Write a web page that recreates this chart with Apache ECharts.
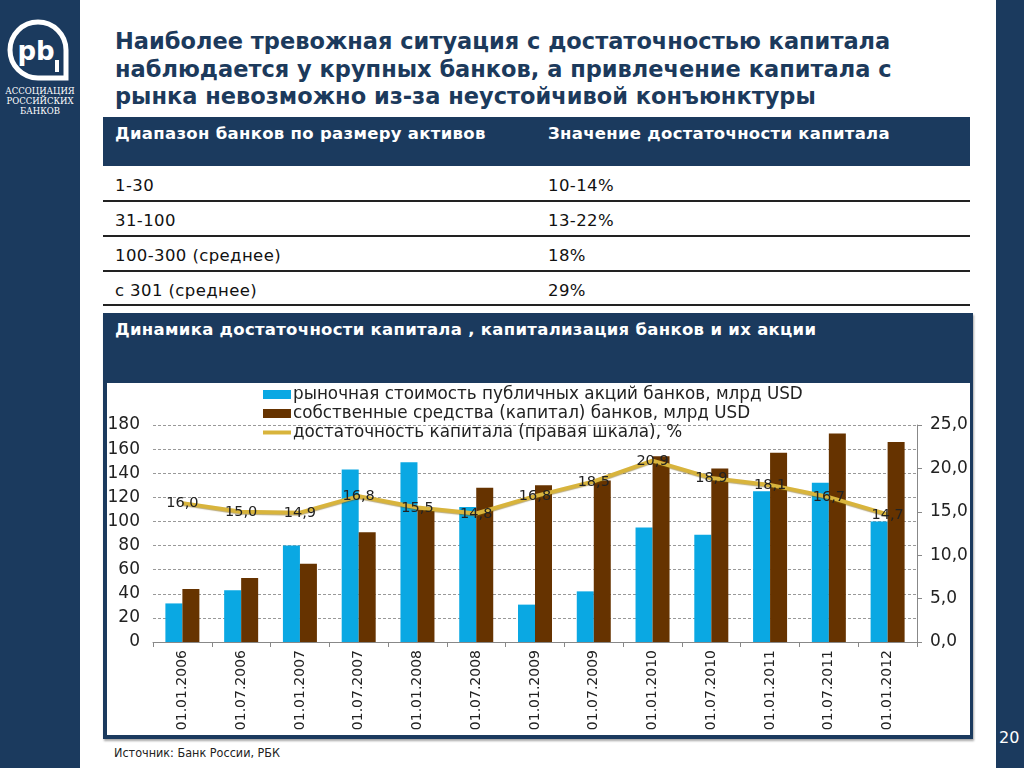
<!DOCTYPE html>
<html>
<head>
<meta charset="utf-8">
<script src="https://cdn.jsdelivr.net/npm/echarts@6/dist/echarts.min.js"></script>
<style>
  html, body { margin: 0; padding: 0; }
  body { width: 1024px; height: 768px; position: relative; overflow: hidden; background: #fff; font-family: "DejaVu Sans", Verdana, sans-serif; }
  .abs { position: absolute; }
  #side { left: 0; top: 0; width: 80px; height: 768px; background: #1b3a5e; }
  #rside { left: 996px; top: 0; width: 28px; height: 768px; background: #1b3a5e; }
  #pnum { left: 999px; top: 728px; color: #fff; font-size: 16px; }
  #title { left: 115px; top: 28px; color: #1c3a5c; font-weight: bold; font-size: 22.5px; line-height: 27.5px; white-space: nowrap; }
  #thead { left: 103px; top: 117px; width: 867px; height: 49px; background: #1b3a5e; }
  .th { color: #fff; font-weight: bold; font-size: 16.5px; letter-spacing: 0.3px; top: 124px; white-space: nowrap; }
  .td { color: #111; font-size: 16.5px; letter-spacing: 0.4px; white-space: nowrap; }
  .hr { left: 103px; width: 867px; height: 2px; background: #222; }
  #panel { left: 103px; top: 313px; width: 870px; height: 426px; background: #1b3a5e; box-shadow: 1px 2px 2px rgba(0,0,0,0.35); }
  #inner { left: 107px; top: 383px; width: 863px; height: 352px; background: #fff; }
  #ptitle { left: 115px; top: 320px; color: #fff; font-weight: bold; font-size: 16.5px; letter-spacing: 0.3px; white-space: nowrap; }
  #src { left: 114px; top: 745px; font-size: 12.5px; color: #222; font-family: "DejaVu Sans Condensed", "DejaVu Sans", sans-serif; }
  #chart { left: 0; top: 0; width: 1024px; height: 768px; }
</style>
</head>
<body>
<div id="side" class="abs">
  <svg width="80" height="130" viewBox="0 0 80 130">
    <path d="M38 22 A28 28 0 1 0 38 78 L66 78 L66 50 A28 28 0 0 0 38 22 Z" fill="none" stroke="#fff" stroke-width="5"/>
    <path d="M57 60 L57 72" stroke="#fff" stroke-width="4"/>
    <text x="36" y="60" text-anchor="middle" fill="#fff" font-family="DejaVu Sans" font-weight="bold" font-size="26">pb</text>
    <text x="40" y="94" text-anchor="middle" fill="#fff" font-family="DejaVu Serif" font-size="8.5">АССОЦИАЦИЯ</text>
    <text x="40" y="104" text-anchor="middle" fill="#fff" font-family="DejaVu Serif" font-size="8.5">РОССИЙСКИХ</text>
    <text x="40" y="114" text-anchor="middle" fill="#fff" font-family="DejaVu Serif" font-size="8.5">БАНКОВ</text>
  </svg>
</div>
<div id="rside" class="abs"></div>
<div id="pnum" class="abs">20</div>

<div id="title" class="abs">Наиболее тревожная ситуация с достаточностью капитала<br>наблюдается у крупных банков, а привлечение капитала с<br>рынка невозможно из-за неустойчивой конъюнктуры</div>

<div id="thead" class="abs"></div>
<div class="abs th" style="left:115px;">Диапазон банков по размеру активов</div>
<div class="abs th" style="left:548px;">Значение достаточности капитала</div>
<div id="rows"></div>

<div id="panel" class="abs"></div>
<div id="inner" class="abs"></div>
<div id="ptitle" class="abs">Динамика достаточности капитала , капитализация банков и их акции</div>
<div id="src" class="abs">Источник: Банк России, РБК</div>

<div id="chart" class="abs"></div>

<script>
// Table data
var tableRanges = ['1-30', '31-100', '100-300 (среднее)', 'с 301 (среднее)'];
var tableValues = ['10-14%', '13-22%', '18%', '29%'];

// Chart data
var categories = ['01.01.2006','01.07.2006','01.01.2007','01.07.2007','01.01.2008','01.07.2008','01.01.2009','01.07.2009','01.01.2010','01.07.2010','01.01.2011','01.07.2011','01.01.2012'];
var marketValue = [32, 43, 80, 143, 149, 112, 31, 42, 95, 89, 125, 132, 100];
var ownFunds = [44, 53, 65, 91, 110, 128, 130, 134, 154, 144, 157, 173, 166];
var adequacy = [16.0, 15.0, 14.9, 16.8, 15.5, 14.8, 16.8, 18.5, 20.9, 18.9, 18.1, 16.7, 14.7];

var seriesNames = [
  'рыночная стоимость публичных акций банков, млрд USD',
  'собственные средства (капитал) банков, млрд USD',
  'достаточность капитала (правая шкала), %'
];

// Build table rows
(function () {
  var rows = document.getElementById('rows');
  var rowCenters = [186, 221, 256, 291];
  var lines = [200, 235, 270, 304];
  var html = '';
  for (var i = 0; i < tableRanges.length; i++) {
    html += '<div class="abs td" style="left:115px;top:' + (rowCenters[i] - 10) + 'px;">' + tableRanges[i] + '</div>';
    html += '<div class="abs td" style="left:548px;top:' + (rowCenters[i] - 10) + 'px;">' + tableValues[i] + '</div>';
    html += '<div class="abs hr" style="top:' + lines[i] + 'px;"></div>';
  }
  rows.innerHTML = html;
})();

var chart = echarts.init(document.getElementById('chart'), null, { renderer: 'canvas' });
var fam = '"DejaVu Sans", Verdana, sans-serif';
var fmt = function (v) { return Number(v).toFixed(1).replace('.', ','); };
var gold = '#d8b43c';

chart.setOption({
  backgroundColor: 'transparent',
  animation: false,
  textStyle: { fontFamily: fam },
  legend: {
    orient: 'vertical',
    left: 258,
    top: 381,
    itemWidth: 28,
    itemHeight: 9,
    itemGap: 2,
    textStyle: { fontSize: 16.8, color: '#222', fontFamily: fam, lineHeight: 17, padding: [0, 0, 0, -3] },
    data: [
      { name: seriesNames[0], icon: 'rect' },
      { name: seriesNames[1], icon: 'rect' },
      { name: seriesNames[2], icon: 'path://M0,0 L28,0 L28,4 L0,4 Z', itemStyle: { color: gold } }
    ]
  },
  grid: { left: 153, right: 107, top: 425, bottom: 126, containLabel: false },
  xAxis: {
    type: 'category',
    data: categories,
    axisLine: { lineStyle: { color: '#888', width: 1 } },
    axisTick: { show: true, length: 5, lineStyle: { color: '#888' } },
    axisLabel: { rotate: 90, fontSize: 14, color: '#222', margin: 8, fontFamily: fam, interval: 0 }
  },
  yAxis: [
    {
      type: 'value', min: 0, max: 180, interval: 20,
      axisLine: { show: false },
      axisTick: { show: false },
      axisLabel: { fontSize: 17, color: '#222', margin: 13, fontFamily: fam },
      splitLine: { show: true, lineStyle: { color: '#999', type: [3, 2], width: 1 } }
    },
    {
      type: 'value', min: 0, max: 25, interval: 5,
      axisLine: { show: true, lineStyle: { color: '#888' } },
      axisTick: { show: true, length: 5, lineStyle: { color: '#888' } },
      axisLabel: { fontSize: 17, color: '#222', margin: 13, fontFamily: fam, formatter: fmt },
      splitLine: { show: false }
    }
  ],
  series: [
    {
      name: seriesNames[0], type: 'bar', data: marketValue, yAxisIndex: 0,
      barWidth: 17, barGap: '0%', itemStyle: { color: '#0aa8e3' }
    },
    {
      name: seriesNames[1], type: 'bar', data: ownFunds, yAxisIndex: 0,
      barWidth: 17, barGap: '0%', itemStyle: { color: '#663300' }
    },
    {
      name: seriesNames[2], type: 'line', data: adequacy, yAxisIndex: 1,
      symbol: 'circle', symbolSize: 0, showSymbol: true, z: 5,
      lineStyle: { color: gold, width: 4, shadowColor: 'rgba(120,90,0,0.5)', shadowBlur: 1, shadowOffsetY: 1 },
      itemStyle: { color: gold },
      label: {
        show: true, position: 'top', distance: -8, fontSize: 14.5, color: '#222', fontFamily: fam,
        formatter: function (p) { return fmt(p.value); }
      }
    }
  ]
});
</script>
</body>
</html>
